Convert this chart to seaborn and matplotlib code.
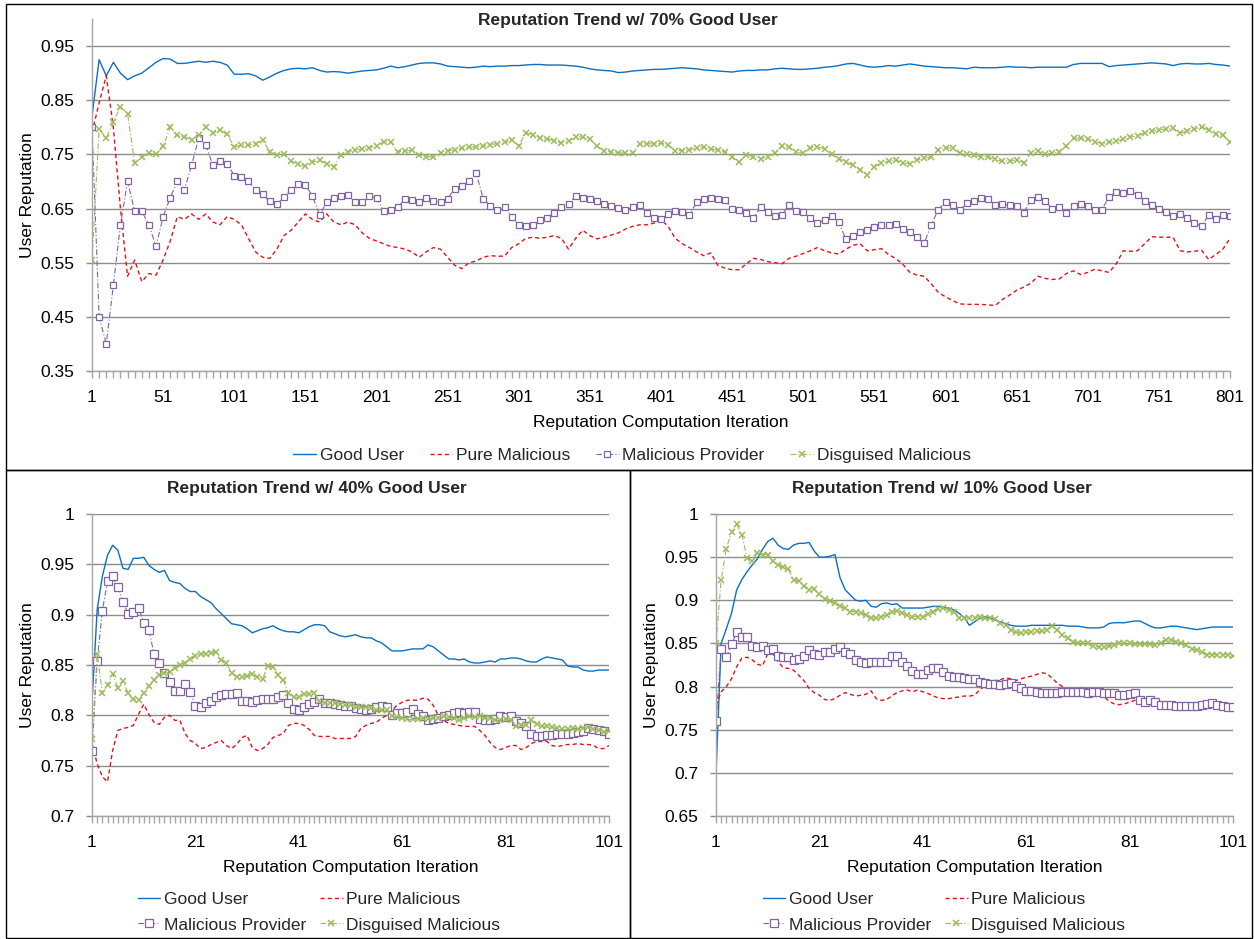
import numpy as np
import matplotlib
matplotlib.use("Agg")
import matplotlib.pyplot as plt
import seaborn as sns
from matplotlib.patches import Rectangle

sns.set_theme(style="white")
plt.rcParams['font.family'] = ['Liberation Sans', 'DejaVu Sans']

# ---------------- data: 70% good users, every 5th iteration (1..801) ----------------
iter_70 = np.arange(1, 802, 5)

good_70 = [
    0.82, 0.925, 0.895, 0.92, 0.90, 0.888, 0.895, 0.90, 0.91, 0.92,
    0.927, 0.926, 0.918, 0.918, 0.92, 0.922, 0.92, 0.922, 0.92, 0.915,
    0.898, 0.898, 0.899, 0.895, 0.887, 0.893, 0.90, 0.905, 0.908, 0.909,
    0.908, 0.91, 0.905, 0.902, 0.903, 0.902, 0.90, 0.902, 0.904, 0.905,
    0.906, 0.909, 0.913, 0.91, 0.912, 0.915, 0.918, 0.919, 0.919, 0.917,
    0.913, 0.912, 0.911, 0.91, 0.911, 0.913, 0.912, 0.913, 0.913, 0.914,
    0.914, 0.915, 0.916, 0.916, 0.915, 0.915, 0.915, 0.914, 0.913, 0.911,
    0.908, 0.906, 0.905, 0.904, 0.901, 0.902, 0.904, 0.905, 0.906, 0.907,
    0.907, 0.908, 0.909, 0.91, 0.909, 0.908, 0.906, 0.905, 0.904, 0.903,
    0.902, 0.904, 0.905, 0.905, 0.906, 0.906, 0.908, 0.909, 0.908, 0.907,
    0.907, 0.908, 0.909, 0.911, 0.912, 0.914, 0.917, 0.918, 0.915, 0.912,
    0.911, 0.912, 0.914, 0.913, 0.915, 0.917, 0.915, 0.913, 0.912, 0.911,
    0.91, 0.91, 0.909, 0.908, 0.911, 0.91, 0.91, 0.91, 0.911, 0.912,
    0.911, 0.911, 0.91, 0.911, 0.911, 0.911, 0.911, 0.911, 0.916, 0.918,
    0.918, 0.918, 0.918, 0.912, 0.914, 0.915, 0.916, 0.917, 0.918, 0.919,
    0.918, 0.917, 0.914, 0.917, 0.918, 0.917, 0.917, 0.918, 0.916, 0.915,
    0.913,
]
pure_70 = [
    0.79, 0.845, 0.895, 0.80, 0.65, 0.525, 0.555, 0.515, 0.53, 0.527,
    0.555, 0.59, 0.635, 0.63, 0.64, 0.63, 0.64, 0.625, 0.62, 0.635,
    0.63, 0.62, 0.595, 0.57, 0.56, 0.558, 0.575, 0.60, 0.61, 0.625,
    0.64, 0.63, 0.625, 0.64, 0.625, 0.62, 0.625, 0.62, 0.605, 0.595,
    0.59, 0.585, 0.58, 0.578, 0.575, 0.57, 0.56, 0.57, 0.578, 0.575,
    0.56, 0.545, 0.539, 0.55, 0.553, 0.56, 0.563, 0.562, 0.562, 0.578,
    0.585, 0.595, 0.597, 0.595, 0.597, 0.60, 0.595, 0.575, 0.595, 0.61,
    0.60, 0.594, 0.597, 0.601, 0.605, 0.612, 0.617, 0.62, 0.62, 0.623,
    0.63, 0.617, 0.595, 0.585, 0.578, 0.57, 0.563, 0.568, 0.545, 0.54,
    0.537, 0.537, 0.548, 0.558, 0.556, 0.552, 0.55, 0.548, 0.558, 0.562,
    0.567, 0.572, 0.578, 0.572, 0.568, 0.566, 0.575, 0.582, 0.585, 0.572,
    0.574, 0.576, 0.565, 0.558, 0.547, 0.532, 0.527, 0.525, 0.511, 0.495,
    0.487, 0.48, 0.474, 0.473, 0.473, 0.473, 0.472, 0.471, 0.482, 0.49,
    0.499, 0.505, 0.512, 0.525, 0.521, 0.519, 0.52, 0.53, 0.535, 0.528,
    0.532, 0.538, 0.535, 0.532, 0.548, 0.572, 0.571, 0.572, 0.585, 0.598,
    0.597, 0.597, 0.597, 0.572, 0.57, 0.571, 0.573, 0.556, 0.565, 0.575,
    0.595,
]
provider_70 = [
    0.80, 0.45, 0.40, 0.508, 0.62, 0.70, 0.645, 0.645, 0.62, 0.58,
    0.635, 0.67, 0.70, 0.685, 0.73, 0.78, 0.767, 0.73, 0.738, 0.733,
    0.711, 0.708, 0.70, 0.685, 0.676, 0.663, 0.659, 0.672, 0.685, 0.695,
    0.694, 0.673, 0.638, 0.662, 0.669, 0.673, 0.675, 0.662, 0.662, 0.673,
    0.67, 0.645, 0.648, 0.653, 0.667, 0.666, 0.662, 0.67, 0.663, 0.662,
    0.668, 0.687, 0.692, 0.70, 0.716, 0.668, 0.655, 0.648, 0.652, 0.635,
    0.619, 0.617, 0.62, 0.628, 0.632, 0.642, 0.652, 0.658, 0.673, 0.67,
    0.667, 0.663, 0.658, 0.655, 0.651, 0.648, 0.652, 0.656, 0.642, 0.632,
    0.631, 0.64, 0.645, 0.643, 0.638, 0.662, 0.668, 0.669, 0.668, 0.665,
    0.65, 0.648, 0.642, 0.633, 0.652, 0.643, 0.636, 0.638, 0.657, 0.646,
    0.643, 0.632, 0.624, 0.628, 0.636, 0.625, 0.593, 0.60, 0.607, 0.611,
    0.615, 0.619, 0.62, 0.622, 0.613, 0.607, 0.597, 0.586, 0.62, 0.648,
    0.662, 0.656, 0.648, 0.66, 0.664, 0.67, 0.668, 0.656, 0.658, 0.656,
    0.654, 0.642, 0.666, 0.671, 0.664, 0.65, 0.653, 0.642, 0.654, 0.658,
    0.655, 0.648, 0.648, 0.672, 0.68, 0.678, 0.682, 0.675, 0.664, 0.656,
    0.65, 0.644, 0.636, 0.64, 0.633, 0.624, 0.617, 0.638, 0.63, 0.638,
    0.636,
]
disguised_70 = [
    0.555, 0.797, 0.78, 0.81, 0.838, 0.825, 0.734, 0.745, 0.752, 0.75,
    0.765, 0.80, 0.785, 0.783, 0.777, 0.786, 0.80, 0.79, 0.795, 0.787,
    0.764, 0.767, 0.767, 0.77, 0.776, 0.755, 0.749, 0.75, 0.737, 0.733,
    0.728, 0.736, 0.739, 0.733, 0.727, 0.749, 0.755, 0.758, 0.76, 0.762,
    0.766, 0.773, 0.773, 0.755, 0.756, 0.758, 0.749, 0.746, 0.745, 0.752,
    0.756, 0.759, 0.761, 0.763, 0.764, 0.765, 0.768, 0.77, 0.772, 0.776,
    0.766, 0.79, 0.786, 0.781, 0.779, 0.775, 0.771, 0.775, 0.782, 0.782,
    0.778, 0.765, 0.757, 0.754, 0.753, 0.752, 0.752, 0.769, 0.77, 0.769,
    0.771, 0.768, 0.757, 0.757, 0.758, 0.762, 0.764, 0.76, 0.758, 0.755,
    0.745, 0.736, 0.749, 0.746, 0.742, 0.746, 0.752, 0.765, 0.763, 0.755,
    0.752, 0.762, 0.764, 0.76, 0.75, 0.742, 0.736, 0.73, 0.722, 0.712,
    0.727, 0.735, 0.737, 0.74, 0.734, 0.733, 0.74, 0.743, 0.745, 0.758,
    0.762, 0.762, 0.752, 0.75, 0.748, 0.746, 0.745, 0.741, 0.737, 0.738,
    0.74, 0.735, 0.752, 0.756, 0.75, 0.752, 0.755, 0.765, 0.78, 0.78,
    0.778, 0.773, 0.77, 0.772, 0.774, 0.778, 0.782, 0.784, 0.79, 0.793,
    0.795, 0.797, 0.798, 0.789, 0.793, 0.797, 0.801, 0.795, 0.788, 0.785,
    0.773,
]

# ---------------- data: 40% good users, iterations 1..101 ----------------
iter_100 = np.arange(1, 102)

good_40 = [
    0.813, 0.905, 0.938, 0.959, 0.969, 0.964, 0.946, 0.945, 0.956, 0.956,
    0.957, 0.949, 0.945, 0.942, 0.944, 0.934, 0.932, 0.931, 0.926, 0.923,
    0.923, 0.918, 0.915, 0.912, 0.906, 0.901, 0.896, 0.891, 0.89, 0.889,
    0.886, 0.882, 0.884, 0.886, 0.887, 0.889, 0.886, 0.884, 0.883, 0.883,
    0.882, 0.885, 0.888, 0.89, 0.89, 0.889, 0.883, 0.881, 0.879, 0.878,
    0.879, 0.88, 0.878, 0.877, 0.877, 0.874, 0.872, 0.868, 0.864, 0.864,
    0.864, 0.865, 0.866, 0.866, 0.866, 0.87, 0.868, 0.864, 0.86, 0.856,
    0.856, 0.855, 0.856, 0.853, 0.852, 0.852, 0.853, 0.854, 0.853, 0.856,
    0.856, 0.857, 0.857, 0.856, 0.854, 0.853, 0.853, 0.856, 0.858, 0.857,
    0.856, 0.855, 0.849, 0.848, 0.848, 0.845, 0.844, 0.844, 0.845, 0.845,
    0.845,
]
pure_40 = [
    0.772, 0.752, 0.739, 0.734, 0.765, 0.785, 0.787, 0.788, 0.79, 0.801,
    0.811, 0.801, 0.793, 0.791, 0.798, 0.80, 0.795, 0.795, 0.782, 0.775,
    0.772, 0.767, 0.768, 0.771, 0.773, 0.775, 0.77, 0.767, 0.771, 0.778,
    0.78, 0.768, 0.765, 0.767, 0.771, 0.778, 0.78, 0.782, 0.79, 0.792,
    0.792, 0.79, 0.786, 0.78, 0.779, 0.779, 0.779, 0.777, 0.777, 0.777,
    0.777, 0.779, 0.787, 0.79, 0.792, 0.793, 0.797, 0.80, 0.805, 0.81,
    0.813, 0.815, 0.815, 0.815, 0.817, 0.816, 0.81, 0.80, 0.795, 0.792,
    0.791, 0.79, 0.789, 0.789, 0.789, 0.785, 0.78, 0.773, 0.768, 0.766,
    0.768, 0.77, 0.77, 0.766, 0.768, 0.772, 0.774, 0.774, 0.774, 0.77,
    0.769, 0.77, 0.771, 0.771, 0.772, 0.771, 0.771, 0.77, 0.767, 0.767,
    0.77,
]
provider_40 = [
    0.765, 0.854, 0.904, 0.933, 0.938, 0.927, 0.913, 0.901, 0.903, 0.907,
    0.892, 0.885, 0.861, 0.852, 0.842, 0.833, 0.824, 0.824, 0.831, 0.823,
    0.809, 0.808, 0.812, 0.814, 0.818, 0.82, 0.821, 0.821, 0.822, 0.814,
    0.814, 0.813, 0.815, 0.816, 0.816, 0.816, 0.818, 0.82, 0.812, 0.806,
    0.805, 0.808, 0.811, 0.813, 0.816, 0.812, 0.812, 0.811, 0.81, 0.809,
    0.809, 0.807, 0.806, 0.805, 0.806, 0.808, 0.809, 0.808, 0.80, 0.802,
    0.802, 0.803, 0.806, 0.801, 0.799, 0.795, 0.796, 0.797, 0.799, 0.80,
    0.802, 0.803, 0.802, 0.803, 0.803, 0.796, 0.795, 0.795, 0.796, 0.799,
    0.798, 0.799, 0.794, 0.792, 0.789, 0.781, 0.779, 0.779, 0.78, 0.78,
    0.781, 0.781, 0.781, 0.782, 0.783, 0.784, 0.787, 0.786, 0.785, 0.784,
    0.781,
]
disguised_40 = [
    0.776, 0.861, 0.822, 0.83, 0.841, 0.827, 0.834, 0.822, 0.816, 0.815,
    0.822, 0.829, 0.835, 0.84, 0.842, 0.843, 0.847, 0.85, 0.852, 0.856,
    0.859, 0.861, 0.861, 0.862, 0.863, 0.855, 0.852, 0.842, 0.838, 0.838,
    0.839, 0.841, 0.838, 0.836, 0.849, 0.848, 0.84, 0.835, 0.822, 0.818,
    0.818, 0.821, 0.821, 0.822, 0.814, 0.812, 0.812, 0.812, 0.811, 0.81,
    0.81, 0.808, 0.808, 0.808, 0.807, 0.805, 0.805, 0.805, 0.799, 0.798,
    0.797, 0.796, 0.796, 0.796, 0.797, 0.796, 0.797, 0.797, 0.799, 0.798,
    0.797, 0.795, 0.797, 0.799, 0.798, 0.799, 0.797, 0.797, 0.795, 0.795,
    0.796, 0.795, 0.789, 0.79, 0.79, 0.795, 0.791, 0.789, 0.789, 0.788,
    0.787, 0.786, 0.786, 0.787, 0.786, 0.787, 0.788, 0.786, 0.785, 0.783,
    0.784,
]

# ---------------- data: 10% good users, iterations 1..101 ----------------
good_10 = [
    0.70, 0.85, 0.867, 0.885, 0.912, 0.924, 0.933, 0.941, 0.948, 0.959,
    0.968, 0.972, 0.964, 0.96, 0.959, 0.964, 0.966, 0.966, 0.967, 0.957,
    0.95, 0.95, 0.951, 0.953, 0.926, 0.912, 0.906, 0.90, 0.899, 0.90,
    0.893, 0.892, 0.896, 0.897, 0.895, 0.896, 0.891, 0.891, 0.891, 0.891,
    0.891, 0.892, 0.893, 0.893, 0.892, 0.891, 0.889, 0.885, 0.88, 0.871,
    0.875, 0.879, 0.881, 0.88, 0.877, 0.875, 0.873, 0.871, 0.87, 0.87,
    0.87, 0.871, 0.871, 0.871, 0.871, 0.871, 0.871, 0.871, 0.87, 0.87,
    0.87, 0.869, 0.868, 0.868, 0.868, 0.869, 0.873, 0.874, 0.874, 0.874,
    0.875, 0.876, 0.876, 0.873, 0.87, 0.868, 0.868, 0.869, 0.87, 0.87,
    0.869, 0.868, 0.867, 0.866, 0.867, 0.868, 0.869, 0.869, 0.869, 0.869,
    0.869,
]
pure_10 = [
    0.778, 0.794, 0.80, 0.809, 0.823, 0.833, 0.834, 0.831, 0.826, 0.824,
    0.838, 0.838, 0.829, 0.822, 0.821, 0.819, 0.813, 0.807, 0.798, 0.793,
    0.79, 0.785, 0.784, 0.786, 0.79, 0.793, 0.791, 0.789, 0.79, 0.791,
    0.795, 0.786, 0.784, 0.785, 0.789, 0.793, 0.795, 0.796, 0.794, 0.796,
    0.794, 0.792, 0.789, 0.787, 0.786, 0.786, 0.787, 0.788, 0.789, 0.789,
    0.79, 0.796, 0.801, 0.805, 0.807, 0.808, 0.81, 0.809, 0.807, 0.809,
    0.811, 0.812, 0.814, 0.816, 0.815, 0.81, 0.804, 0.80, 0.797, 0.796,
    0.797, 0.798, 0.797, 0.796, 0.795, 0.789, 0.783, 0.78, 0.779, 0.78,
    0.782, 0.784, 0.784, 0.783, 0.782, 0.781, 0.781, 0.78, 0.78, 0.78,
    0.78, 0.781, 0.781, 0.781, 0.782, 0.782, 0.781, 0.781, 0.78, 0.78,
    0.779,
]
provider_10 = [
    0.76, 0.843, 0.834, 0.849, 0.863, 0.858, 0.857, 0.847, 0.846, 0.847,
    0.842, 0.843, 0.836, 0.834, 0.834, 0.831, 0.832, 0.836, 0.842, 0.838,
    0.837, 0.84, 0.84, 0.843, 0.846, 0.84, 0.838, 0.831, 0.828, 0.827,
    0.828, 0.828, 0.828, 0.828, 0.836, 0.836, 0.828, 0.824, 0.818, 0.815,
    0.815, 0.819, 0.822, 0.822, 0.817, 0.812, 0.811, 0.811, 0.81, 0.809,
    0.809, 0.805, 0.804, 0.803, 0.803, 0.802, 0.803, 0.804, 0.801, 0.798,
    0.795, 0.795, 0.794, 0.793, 0.793, 0.793, 0.793, 0.794, 0.794, 0.794,
    0.794, 0.794, 0.793, 0.794, 0.794, 0.793, 0.793, 0.792, 0.79, 0.79,
    0.791, 0.792, 0.784, 0.782, 0.784, 0.782, 0.779, 0.779, 0.779, 0.778,
    0.778, 0.778, 0.778, 0.778, 0.779, 0.78, 0.781, 0.779, 0.778, 0.776,
    0.776,
]
disguised_10 = [
    0.85, 0.924, 0.96, 0.979, 0.988, 0.976, 0.949, 0.945, 0.955, 0.953,
    0.953, 0.945, 0.941, 0.938, 0.936, 0.924, 0.922, 0.917, 0.912, 0.913,
    0.907, 0.902, 0.899, 0.897, 0.893, 0.891, 0.887, 0.887, 0.885, 0.883,
    0.88, 0.879, 0.881, 0.883, 0.886, 0.888, 0.885, 0.883, 0.881, 0.881,
    0.881, 0.884, 0.887, 0.89, 0.891, 0.889, 0.887, 0.88, 0.88, 0.88,
    0.88, 0.881, 0.879, 0.879, 0.878, 0.874, 0.871, 0.866, 0.863, 0.862,
    0.863, 0.863, 0.864, 0.864, 0.865, 0.87, 0.866, 0.86, 0.856, 0.852,
    0.851, 0.851, 0.85, 0.847, 0.846, 0.846, 0.847, 0.848, 0.85, 0.85,
    0.85, 0.849, 0.849, 0.849, 0.849, 0.848, 0.85, 0.854, 0.854, 0.852,
    0.851, 0.848, 0.844, 0.842, 0.84, 0.837, 0.837, 0.837, 0.837, 0.837,
    0.836,
]

labels = ["Good User", "Pure Malicious", "Malicious Provider", "Disguised Malicious"]

BLUE, RED, PURPLE, GREEN = "#0B70C2", "#E3121B", "#8064A2", "#9BBB59"
GRID = "#8C8C8C"
AXIS = "#A6A6A6"
FS = 12.5

W, H = 1254, 939
fig = plt.figure(figsize=(W / 100, H / 100), dpi=100)


def px_box(x0, y0, x1, y1):
    return [x0 / W, 1 - y1 / H, (x1 - x0) / W, (y1 - y0) / H]


def styles(big):
    ms_sq = 4.0 if big else 5.8
    ms_x = 4.0 if big else 5.0
    return [
        dict(color=BLUE, linestyle="-", linewidth=1.0),
        dict(color=RED, linestyle=(0, (3, 2.2)), linewidth=1.0),
        dict(color=PURPLE, linestyle=(0, (5, 2, 1, 2)), linewidth=0.8,
             marker="s", markersize=ms_sq, markerfacecolor="white",
             markeredgecolor=PURPLE, markeredgewidth=0.9),
        dict(color=GREEN, linestyle=(0, (5, 2, 1, 2)), linewidth=0.8,
             marker="x", markersize=ms_x, markeredgecolor=GREEN,
             markeredgewidth=1.1),
    ]


def draw_panel(ax, x, series, big):
    for name, vals, st in zip(labels, series, styles(big)):
        sns.lineplot(x=x, y=vals, ax=ax, label=name, legend=False, **st)
    if ax.get_legend() is not None:
        ax.get_legend().remove()
    sns.despine(ax=ax)
    for side in ("left", "bottom"):
        ax.spines[side].set_color(AXIS)
        ax.spines[side].set_linewidth(1.0)
    ax.set_axisbelow(True)
    ax.yaxis.grid(True, color=GRID, linewidth=1.0)
    ax.xaxis.grid(False)
    ax.tick_params(axis="x", which="both", bottom=True, direction="out",
                   length=5, width=1, color=AXIS, pad=8.5,
                   labelsize=FS, labelcolor="black")
    ax.tick_params(axis="y", which="major", left=True, direction="out",
                   length=4, width=1, color=GRID, pad=8.5,
                   labelsize=FS, labelcolor="black")
    ax.set_ylabel("User Reputation", fontsize=FS, color="black")
    ax.set_xlabel("Reputation Computation Iteration", fontsize=FS, color="black")
    ax.xaxis.label.set_va("center")
    ax.yaxis.label.set_va("center")


# ---------------- top panel ----------------
ax_top = fig.add_axes(px_box(92, 19, 1230, 371))
draw_panel(ax_top, iter_70, [good_70, pure_70, provider_70, disguised_70], True)
ax_top.set_xlim(1, 801)
ax_top.set_ylim(0.35, 1.0)
ax_top.set_xticks(np.arange(1, 802, 50))
ax_top.set_xticks(np.arange(1, 802, 5), minor=True)
yt = [0.35, 0.45, 0.55, 0.65, 0.75, 0.85, 0.95]
ax_top.set_yticks(yt)
ax_top.set_yticklabels([f"{v:.2f}" for v in yt])
ax_top.xaxis.set_label_coords(0.5, -0.145)
ax_top.yaxis.set_label_coords(-0.0571, 0.5)

# ---------------- bottom panels ----------------
ax_l = fig.add_axes(px_box(92, 514, 609, 816))
draw_panel(ax_l, iter_100, [good_40, pure_40, provider_40, disguised_40], False)
ax_l.set_ylim(0.7, 1.0)
yl = [0.7, 0.75, 0.8, 0.85, 0.9, 0.95, 1.0]
ax_l.set_yticks(yl)
ax_l.set_yticklabels([f"{v:g}" for v in yl])
ax_l.yaxis.set_label_coords(-0.1257, 0.5)

ax_r = fig.add_axes(px_box(716, 514, 1233, 816))
draw_panel(ax_r, iter_100, [good_10, pure_10, provider_10, disguised_10], False)
ax_r.set_ylim(0.65, 1.0)
yr = [0.65, 0.7, 0.75, 0.8, 0.85, 0.9, 0.95, 1.0]
ax_r.set_yticks(yr)
ax_r.set_yticklabels([f"{v:g}" for v in yr])
ax_r.yaxis.set_label_coords(-0.124, 0.5)

for ax in (ax_l, ax_r):
    ax.set_xlim(1, 101)
    ax.set_xticks(np.arange(1, 102, 20))
    ax.set_xticks(np.arange(1, 102, 1), minor=True)
    ax.xaxis.set_label_coords(0.5, -0.169)

# ---------------- titles ----------------
fig.text(628 / W, 1 - 21 / H, "Reputation Trend w/ 70% Good User",
         ha="center", va="center", fontsize=FS, fontweight="bold")
fig.text(317 / W, 1 - 489 / H, "Reputation Trend w/ 40% Good User",
         ha="center", va="center", fontsize=FS, fontweight="bold")
fig.text(942 / W, 1 - 489 / H, "Reputation Trend w/ 10% Good User",
         ha="center", va="center", fontsize=FS, fontweight="bold")

# ---------------- legends ----------------
h_top, l_top = ax_top.get_legend_handles_labels()
fig.legend(h_top, l_top, loc="center", bbox_to_anchor=(632 / W, 1 - 455 / H),
           ncol=4, frameon=False, fontsize=FS, numpoints=1,
           handlelength=1.3, handletextpad=0.2, columnspacing=1.5)

for ax, cx in ((ax_l, 319), (ax_r, 944)):
    h, l = ax.get_legend_handles_labels()
    order = [0, 2, 1, 3]
    fig.legend([h[i] for i in order], [l[i] for i in order], loc="center",
               bbox_to_anchor=(cx / W, 1 - 912 / H), ncol=2, frameon=False,
               fontsize=FS, numpoints=1, handlelength=1.3, handletextpad=0.2,
               columnspacing=0.8, labelspacing=0.62)

# ---------------- panel borders ----------------
for (x0, y0, x1, y1) in ((6, 4, 1252, 470), (6, 470, 630, 938), (630, 470, 1252, 938)):
    fig.add_artist(Rectangle((x0 / W, 1 - y1 / H), (x1 - x0) / W, (y1 - y0) / H,
                             transform=fig.transFigure, fill=False,
                             edgecolor="black", linewidth=1.0))

fig.savefig("out.png", dpi=100)
